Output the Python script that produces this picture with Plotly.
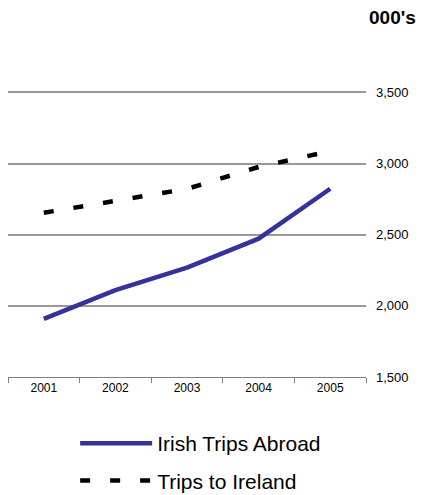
import plotly.graph_objects as go

years = ["2001", "2002", "2003", "2004", "2005"]
irish_trips_abroad = [1908, 2110, 2269, 2472, 2823]
trips_to_ireland = [2654, 2735, 2822, 2976, 3088]

fig = go.Figure()
fig.add_trace(go.Scatter(
    x=years, y=irish_trips_abroad, name="Irish Trips Abroad", mode="lines",
    legendgroup="a", line=dict(color="#333399", width=4.5)))
fig.add_trace(go.Scatter(
    x=years, y=trips_to_ireland, name="Trips to Ireland", mode="lines",
    legendgroup="b", line=dict(color="#000000", width=4.5, dash="10px,20px")))

# the page body adds an 8px offset, so the figure is 8px smaller
W, H = 417, 487
fig.update_layout(
    width=W, height=H,
    margin=dict(l=0, r=59, t=82.6, b=118, autoexpand=False),
    paper_bgcolor="white", plot_bgcolor="white",
    font=dict(family="Liberation Sans, Arial, sans-serif", color="black", size=12),
    showlegend=True,
    legend=dict(orientation="v", xref="container", yref="container",
                x=0.161, xanchor="left", y=1 - 415 / H, yanchor="top",
                font=dict(size=21), itemwidth=72, tracegroupgap=7,
                bgcolor="rgba(0,0,0,0)"),
    xaxis=dict(type="category", range=[-0.5, 4.5], tickson="boundaries",
               ticks="outside", ticklen=5, tickcolor="#808080", showline=True,
               linecolor="#808080", linewidth=1, showgrid=False,
               tickfont=dict(size=12), automargin=False),
    yaxis=dict(side="right", range=[1500, 3510], tickvals=[1500, 2000, 2500, 3000, 3500],
               tickformat=",",
               showgrid=True, gridcolor="#999999", gridwidth=2, zeroline=False,
               ticks="", showline=False, tickfont=dict(size=13), ticklabelstandoff=9,
               automargin=False),
    annotations=[dict(text="<b>000's</b>", xref="paper", yref="paper",
                      x=1.0, y=1.0, xanchor="right", yanchor="bottom",
                      xshift=52, yshift=61, showarrow=False,
                      font=dict(size=19, color="black"))],
)

fig.write_html("out.html")
